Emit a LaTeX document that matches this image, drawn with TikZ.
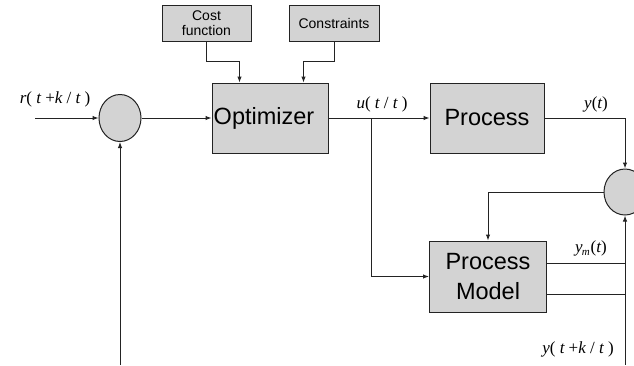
\documentclass[tikz,border=0pt]{standalone}
\usepackage{fontspec}
\setmainfont{Liberation Serif}
\newfontfamily\boxfont{Liberation Sans}
\usetikzlibrary{arrows.meta,shapes.geometric,calc}
\definecolor{boxgray}{RGB}{211,211,211}
\definecolor{ink}{RGB}{35,35,35}
\tikzset{
  blockbox/.style={draw=ink, line width=1pt, fill=boxgray, rectangle, inner sep=0pt, font=\boxfont},
  smallbox/.style={blockbox, font=\boxfont\fontsize{14}{15}\selectfont, align=center},
  bigbox/.style={blockbox, font=\boxfont\fontsize{23.5}{30}\selectfont, align=center},
  junction/.style={draw=ink, line width=1pt, fill=boxgray, ellipse, inner sep=0pt},
  wire/.style={draw=ink, line width=1pt},
  arr/.style={wire, -{Latex[length=6pt,width=4.5pt]}},
  sig/.style={font=\fontsize{17}{18}\selectfont\itshape, inner sep=0pt}
}
\begin{document}
\begin{tikzpicture}[x=1pt, y=-1pt]
  \useasboundingbox (0,0) rectangle (634,365);

  % blocks
  \node[smallbox, minimum width=89pt, minimum height=36pt] (cost) at (206.5,23) {Cost\\function};
  \node[smallbox, minimum width=90pt, minimum height=36pt] (cons) at (334,23) {Constraints};
  \node[bigbox, minimum width=116pt, minimum height=70pt] (opt) at (270,118) {};
  \node[font=\boxfont\fontsize{23.5}{30}\selectfont, inner sep=0pt] (optlabel) at (264,118) {Optimizer};
  \node[bigbox, minimum width=114pt, minimum height=70pt] (proc) at (487,118) {Process};
  \node[bigbox, minimum width=117pt, minimum height=71pt] (model) at (488,276.5) {Process\\Model};

  % summing junctions
  \node[junction, minimum width=42pt, minimum height=47pt] (sumA) at (120,118) {};
  \node[junction, minimum width=42pt, minimum height=46pt] (sumB) at (625,192) {};

  % free ends
  \coordinate (rin) at (35,118);
  \coordinate (fb) at (120,365);
  \coordinate (br) at (371,118);
  \coordinate (pout) at (625,365);

  % cost function and constraints into the optimizer
  \draw[arr] (cost.south) -- ++(0,20) -| ([xshift=28pt]opt.north west);
  \draw[arr] (cons.south) -- ++(0,20) -| ([xshift=92pt]opt.north west);

  % reference path
  \draw[arr] (rin) -- (sumA.west);
  \draw[arr] (fb) -- (sumA.south);
  \draw[arr] (sumA.east) -- (opt.west);

  % control signal
  \draw[arr] (opt.east) -- (proc.west);
  \draw[arr] (br) |- (model.west);

  % process and model outputs
  \draw[arr] (proc.east) -| (sumB.north);
  \draw[arr] (sumB.west) -| (model.north);
  \draw[arr] ([yshift=-17.5pt]model.east) -| (sumB.south);
  \draw[wire] ([yshift=13.5pt]model.east) -| (pout);

  % signal labels
  \node[sig] (lr) at (55,99) {r\upshape( \itshape t \upshape+\itshape k \upshape/ \itshape t \upshape)};
  \node[sig] (lu) at (382,104) {u\upshape( \itshape t \upshape/ \itshape t \upshape)};
  \node[sig] (ly) at (596,104) {y\upshape(\itshape t\upshape)};
  \node[sig] (lym) at (591,248) {y\kern-1pt\raisebox{-3.5pt}{\fontsize{11}{11}\selectfont m}\kern1pt\upshape(\itshape t\upshape)};
  \node[sig] (lyp) at (578,349) {y\upshape( \itshape t \upshape+\itshape k \upshape/ \itshape t \upshape)};
\end{tikzpicture}
\end{document}
